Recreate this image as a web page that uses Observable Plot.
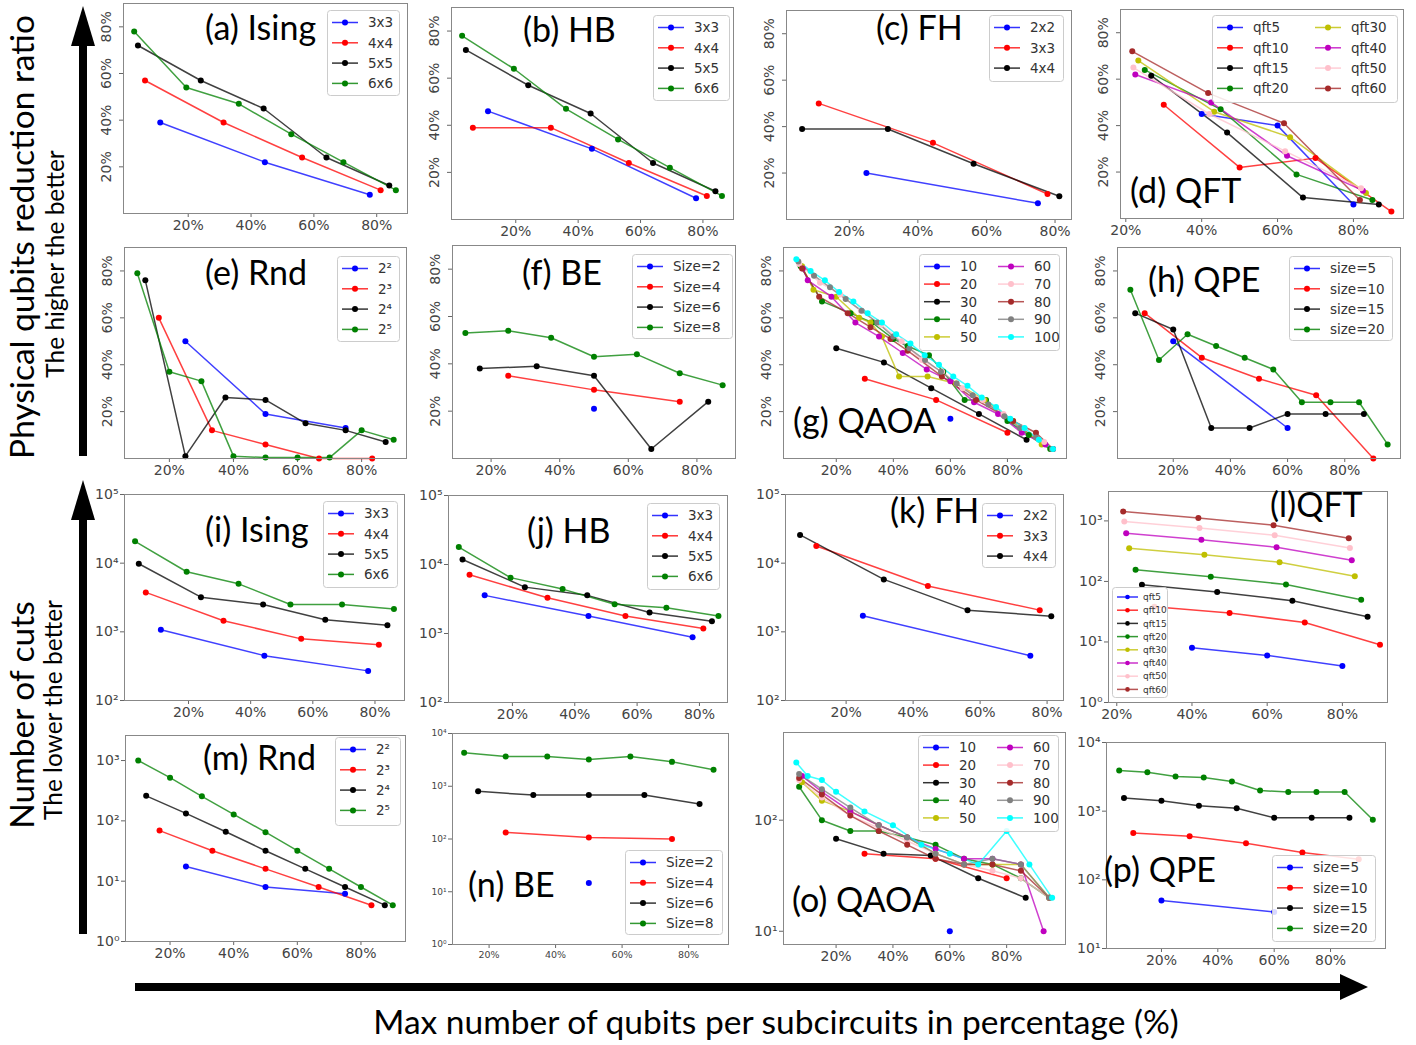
<!DOCTYPE html>
<html><head><meta charset="utf-8">
<script src="https://cdn.jsdelivr.net/npm/d3@7"></script>
<script src="https://cdn.jsdelivr.net/npm/@observablehq/plot@0.6"></script>
<style>
body{margin:0;background:#fff;}
#root{position:relative;width:1416px;height:1045px;overflow:hidden;background:#fff;}
#root svg{position:absolute;}
</style></head><body><div id="root"></div>
<script>
// ---------------- DATA (x = max qubits per subcircuit %, y = value) ----------------
const xTicks = [20, 40, 60, 80];
const c4 = ["blue", "red", "black", "green"];
const c3 = ["blue", "red", "black"];
const c8 = ["blue", "red", "black", "green", "#bfbf00", "#bf00bf", "pink", "brown"];
const c10 = ["blue", "red", "black", "green", "#bfbf00", "#bf00bf", "pink", "brown", "grey", "cyan"];

// Row 1-2 : physical qubits reduction ratio (%)
const ratioIsing = [
  ["3x3", [[11.1,39],[44.4,22],[77.8,8]]],
  ["4x4", [[6.25,57],[31.25,39],[56.25,24],[81.25,10]]],
  ["5x5", [[4,72],[24,57],[44,45],[64,24],[84,12]]],
  ["6x6", [[2.8,78],[19.4,54],[36.1,47],[52.8,34],[69.4,22],[86.1,10]]]
];
const ratioHB = [
  ["3x3", [[11.1,46],[44.4,30],[77.8,9]]],
  ["4x4", [[6.25,39],[31.25,39],[56.25,24],[81.25,10]]],
  ["5x5", [[4,72],[24,57],[44,45],[64,24],[84,12]]],
  ["6x6", [[2.8,78],[19.4,64],[36.1,47],[52.8,34],[69.4,22],[86.1,10]]]
];
const ratioFH = [
  ["2x2", [[25,20],[75,7]]],
  ["3x3", [[11.1,50],[44.4,33],[77.8,11]]],
  ["4x4", [[6.25,39],[31.25,39],[56.25,24],[81.25,10]]]
];
const ratioQFT = [
  ["qft5", [[40,45],[60,40],[80,6]]],
  ["qft10", [[30,49],[50,22],[70,26],[90,3]]],
  ["qft15", [[26.7,61.5],[46.7,37],[66.7,9],[86.7,6]]],
  ["qft20", [[25,64],[45,47],[65,19],[85,8]]],
  ["qft30", [[23.3,68],[43.3,46],[63.3,35],[83.3,11]]],
  ["qft40", [[22.5,62],[42.5,50],[62.5,27],[82.5,12]]],
  ["qft50", [[22,65],[42,45],[62,29],[82,13]]],
  ["qft60", [[21.7,72],[41.7,54],[61.7,41],[81.7,8]]]
];
const ratioRnd = [
  ["2²", [[25,50],[50,19],[75,13]]],
  ["2³", [[16.7,60],[33.3,12],[50,6],[66.7,0],[83.3,0]]],
  ["2⁴", [[12.5,76],[25,1],[37.5,26],[50,25],[62.5,15],[75,12],[87.5,7]]],
  ["2⁵", [[10,79],[20,37],[30,33],[40,1],[50,0.4],[60,0.4],[70,0.4],[80,12],[90,8]]]
];
const ratioBE = [
  ["Size=2", [[50,21]]],
  ["Size=4", [[25,35],[50,29],[75,24]]],
  ["Size=6", [[16.7,38],[33.3,39],[50,35],[66.7,4],[83.3,24]]],
  ["Size=8", [[12.5,53],[25,54],[37.5,51],[50,43],[62.5,44],[75,36],[87.5,31]]]
];
const ratioQAOA = [
  ["10", [[60,17]]],
  ["20", [[30,34],[55,25],[80,11]]],
  ["30", [[20,47],[36.7,41],[53.3,30],[70,19],[86.7,8]]],
  ["40", [[7.5,82],[15,67],[25,62],[32.5,58],[40,51],[45,48],[52.5,44],[57.5,37],[65,25],[72.5,25],[80,16],[87.5,10],[95,4]]],
  ["50", [[8,82],[12,72],[20,69],[28,60],[32,58],[36,52],[42,35],[52,35],[62,32],[72,25],[82,16],[92,6]]],
  ["60", [[8.3,81],[10,76],[18.3,69],[26.7,58],[35,52],[43.3,45],[51.7,38],[60,33],[68.3,24],[76.7,19],[85,11],[93.3,6],[96,4]]],
  ["70", [[7,83],[14.3,75],[21.4,70],[28.6,63],[35.7,57],[42.9,50],[50,42],[57.1,37],[64.3,30],[71.4,25],[78.6,19],[85.7,13],[92.9,7]]],
  ["80", [[8,81],[14,69],[24,62],[32,56],[39,51],[45,46],[57,35],[69,25],[82,16],[90,11],[96,4]]],
  ["90", [[6.7,84],[12.2,78],[17.8,73],[23.3,68],[28.9,63],[34.4,58],[40,52],[45.6,47],[51.1,42],[56.7,37],[62.2,32],[67.8,27],[73.3,23],[78.9,18],[84.4,13],[90,9],[95.6,4]]],
  ["100", [[6,85],[11,80],[16,76],[21,71],[26,67],[31,62],[36,58],[41,53],[46,49],[51,44],[56,40],[61,35],[66,31],[71,26],[76,22],[81,17],[86,13],[91,8],[96,4]]]
];
const ratioQPE = [
  ["size=5", [[20,50],[60,13]]],
  ["size=10", [[10,62],[30,43],[50,34],[70,27],[90,0]]],
  ["size=15", [[6.7,62],[20,55],[33.3,13],[46.7,13],[60,19],[73.3,19],[86.7,19]]],
  ["size=20", [[5,72],[15,42],[25,53],[35,48],[45,43],[55,38],[65,24],[75,24],[85,24],[95,6]]]
];

// Row 3-4 : number of cuts (log)
const cutsIsing = [
  ["3x3", [[11.1,1070],[44.4,450],[77.8,270]]],
  ["4x4", [[6.25,3750],[31.25,1450],[56.25,790],[81.25,650]]],
  ["5x5", [[4,9800],[24,3200],[44,2500],[64,1500],[84,1250]]],
  ["6x6", [[2.8,20800],[19.4,7500],[36.1,5000],[52.8,2500],[69.4,2500],[86.1,2150]]]
];
const cutsHB = [
  ["3x3", [[11.1,3570],[44.4,1790],[77.8,880]]],
  ["4x4", [[6.25,7100],[31.25,3300],[56.25,1790],[81.25,1180]]],
  ["5x5", [[4,11800],[24,4700],[44,3570],[64,2020],[84,1500]]],
  ["6x6", [[2.8,17900],[19.4,6450],[36.1,4400],[52.8,2650],[69.4,2360],[86.1,1790]]]
];
const cutsFH = [
  ["2x2", [[25,1710],[75,450]]],
  ["3x3", [[11.1,17800],[44.4,4640],[77.8,2070]]],
  ["4x4", [[6.25,25800],[31.25,5800],[56.25,2070],[81.25,1690]]]
];
const cutsQFT = [
  ["qft5", [[40,8],[60,6],[80,4]]],
  ["qft10", [[30,38],[50,30],[70,21],[90,9]]],
  ["qft15", [[26.7,88],[46.7,67],[66.7,48],[86.7,26]]],
  ["qft20", [[25,156],[45,119],[65,89],[85,50]]],
  ["qft30", [[23.3,352],[43.3,277],[63.3,207],[83.3,122]]],
  ["qft40", [[22.5,625],[42.5,490],[62.5,366],[82.5,223]]],
  ["qft50", [[22,975],[42,766],[62,578],[82,357]]],
  ["qft60", [[21.7,1430],[41.7,1120],[61.7,848],[81.7,516]]]
];
const cutsRnd = [
  ["2²", [[25,17.5],[50,8],[75,6.2]]],
  ["2³", [[16.7,69],[33.3,32],[50,16],[66.7,8],[83.3,4]]],
  ["2⁴", [[12.5,260],[25,133],[37.5,66],[50,32],[62.5,16],[75,8],[87.5,4]]],
  ["2⁵", [[10,1000],[20,520],[30,255],[40,128],[50,65],[60,32],[70,16],[80,8],[90,4]]]
];
const cutsBE = [
  ["Size=2", [[50,14.7]]],
  ["Size=4", [[25,133],[50,107],[75,100]]],
  ["Size=6", [[16.7,800],[33.3,680],[50,680],[66.7,680],[83.3,460]]],
  ["Size=8", [[12.5,4300],[25,3650],[37.5,3650],[50,3200],[62.5,3650],[75,2900],[87.5,2050]]]
];
const cutsQAOA = [
  ["10", [[60,10]]],
  ["20", [[30,50],[55,45],[80,30]]],
  ["30", [[20,68],[36.7,50],[53.3,48],[70,30],[86.7,20]]],
  ["40", [[7,200],[15,100],[25,80],[35,80],[45,70],[55,60],[65,45],[75,40],[85,30],[95,20]]],
  ["50", [[8,220],[15,150],[25,120],[35,90],[45,70],[55,50],[65,40],[75,40],[85,40],[95,20]]],
  ["60", [[8,250],[15,180],[25,120],[35,90],[45,70],[55,55],[65,45],[75,45],[85,40],[93,10]]],
  ["70", [[7,230],[15,160],[25,110],[35,85],[45,65],[55,50],[65,40],[75,35],[85,30],[95,20]]],
  ["80", [[7,240],[15,170],[25,110],[35,80],[45,60],[55,45],[65,40],[75,40],[85,35],[95,20]]],
  ["90", [[7,260],[15,190],[25,130],[35,90],[45,70],[55,50],[65,40],[75,45],[85,40],[95,20]]],
  ["100", [[6,330],[10,250],[15,230],[20,180],[30,120],[40,90],[50,60],[60,50],[70,40],[80,80],[88,40],[96,20]]]
];
const cutsQPE = [
  ["size=5", [[20,50],[60,34]]],
  ["size=10", [[10,480],[30,430],[50,340],[70,250],[90,200]]],
  ["size=15", [[6.7,1550],[20,1420],[33.3,1200],[46.7,1100],[60,800],[73.3,800],[86.7,800]]],
  ["size=20", [[5,3900],[15,3700],[25,3200],[35,3100],[45,2700],[55,2000],[65,1900],[75,1900],[85,1900],[95,750]]]
];

// ---------------- LAYOUT ----------------
const panels = [
  {data: ratioIsing, colors: c4, l:123, t:3,  w:284, h:210, x:[-0.6,89.8], title:"(a) Ising", tp:[205,40], lg:{x:327,y:10,w:72,h:85,cols:1}},
  {data: ratioHB,    colors: c4, l:451, t:7,  w:282, h:212, x:[-0.6,89.8], title:"(b) HB", tp:[523,42], lg:{x:653,y:15,w:76,h:85,cols:1}},
  {data: ratioFH,    colors: c3, l:786, t:10, w:285, h:209, x:[1.7,84.8], title:"(c) FH", tp:[876,40], lg:{x:989,y:15,w:74,h:66,cols:1}},
  {data: ratioQFT,   colors: c8, l:1120,t:9,  w:283, h:209, x:[18.6,93.2], title:"(d) QFT", tp:[1130,203], lg:{x:1212,y:15,w:185,h:87,cols:2,colW:98}},
  {data: ratioRnd,   colors: c4, l:124, t:247,w:282, h:211, x:[6,94], title:"(e) Rnd", tp:[205,285], lg:{x:337,y:256,w:62,h:85,cols:1}},
  {data: ratioBE,    colors: c4, l:452, t:245,w:283, h:213, x:[8.75,91.25], title:"(f) BE", tp:[522,285], lg:{x:632,y:254,w:100,h:84,cols:1}},
  {data: ratioQAOA,  colors: c10,l:783, t:247,w:283, h:211, x:[1.5,100.7], title:"(g) QAOA", tp:[793,433], lg:{x:919,y:254,w:140,h:96,cols:2,colW:74,rowH:17.6}},
  {data: ratioQPE,   colors: c4, l:1117,t:247,w:283, h:211, x:[0.5,99.5], title:"(h) QPE", tp:[1148,292], lg:{x:1289,y:256,w:103,h:84,cols:1}},
  {data: cutsIsing,  colors: c4, l:124, t:494,w:280, h:206, x:[-0.6,89.5], log:[100,1e5], title:"(i) Ising", tp:[205,542], lg:{x:323,y:501,w:74,h:86,cols:1}},
  {data: cutsHB,     colors: c4, l:448, t:495,w:279, h:207, x:[-0.5,89], log:[100,1e5], title:"(j) HB", tp:[527,543], lg:{x:647,y:503,w:72,h:86,cols:1}},
  {data: cutsFH,     colors: c3, l:785, t:494,w:278, h:206, x:[1.9,84.9], log:[100,1e5], title:"(k) FH", tp:[890,523], lg:{x:982,y:503,w:73,h:64,cols:1}},
  {data: cutsQFT,    colors: c8, l:1108,t:491,w:279, h:211, x:[17.8,92], log:[1,3060], title:"(l)QFT", tp:[1270,517], lg:{x:1112,y:587,w:55,h:110,cols:1,rowH:13.2,font:9,first:10,line:21}},
  {data: cutsRnd,    colors: c4, l:125, t:735,w:280, h:206, x:[6,94], log:[1,2600], title:"(m) Rnd", tp:[203,770], lg:{x:335,y:737,w:65,h:88,cols:1}},
  {data: cutsBE,     colors: c4, l:452, t:733,w:276, h:211, x:[9,92], log:[1,1e4], yFont:9, xFont:9.5, title:"(n) BE", tp:[468,897], lg:{x:625,y:850,w:97,h:84,cols:1}},
  {data: cutsQAOA,   colors: c10,l:783, t:732,w:282, h:212, x:[1.5,100.7], log:[7.6,616], title:"(o) QAOA", tp:[792,912], lg:{x:918,y:735,w:140,h:96,cols:2,colW:74,rowH:17.6}},
  {data: cutsQPE,    colors: c4, l:1106,t:742,w:279, h:206, x:[0.5,99.5], log:[10,1e4], title:"(p) QPE", tp:[1104,882], lg:{x:1272,y:855,w:103,h:86,cols:1}}
];

const SUP = {"0":"⁰","1":"¹","2":"²","3":"³","4":"⁴","5":"⁵","6":"⁶","-":"⁻"};
const sup = n => String(n).split("").map(c => SUP[c]).join("");
const root = document.getElementById("root");
const ML = 44, MR = 8, MT = 8, MB = 32;
const FONT = "'DejaVu Sans', sans-serif";

for (const p of panels) {
  const rows = [];
  p.data.forEach(([name, pts]) => pts.forEach(([x, y]) => rows.push({series: name, x, y})));
  const xf = p.xFont || 14, yf = p.yFont || 14;
  const yAxis = p.log
    ? Plot.axisY({ticks: d3.range(Math.ceil(Math.log10(p.log[0])), Math.floor(Math.log10(p.log[1])) + 1).map(e => 10 ** e),
        tickFormat: d => "10" + sup(Math.round(Math.log10(d))), tickSize: 4, tickPadding: 2, fontSize: yf, label: null, stroke: "#666"})
    : Plot.axisY({ticks: xTicks, tickFormat: d => d + "%", tickRotate: -90, tickSize: 4, tickPadding: 9, fontSize: yf, label: null, stroke: "#666"});
  const chart = Plot.plot({
    width: p.w + ML + MR, height: p.h + MT + MB,
    marginLeft: ML, marginRight: MR, marginTop: MT, marginBottom: MB,
    style: {fontFamily: FONT, color: "#444", background: "transparent", overflow: "visible", fontSize: "14px"},
    x: {domain: p.x, label: null},
    y: p.log ? {type: "log", domain: p.log, label: null} : {domain: [0, 90], label: null},
    color: {domain: p.data.map(d => d[0]), range: p.colors},
    marks: [
      Plot.axisX({ticks: xTicks, tickFormat: d => d + "%", tickSize: 4, tickPadding: 3, fontSize: xf, label: null, stroke: "#666"}),
      yAxis,
      Plot.line(rows, {x: "x", y: "y", z: "series", stroke: "series", strokeWidth: 1.5, strokeOpacity: 0.75}),
      Plot.dot(rows, {x: "x", y: "y", fill: "series", r: 3}),
      Plot.frame({stroke: "#888", strokeWidth: 1})
    ]
  });
  chart.style.left = (p.l - ML) + "px";
  chart.style.top = (p.t - MT) + "px";
  root.appendChild(chart);
}

// ---------------- OVERLAY: titles, legends, arrows, labels ----------------
const NS = "http://www.w3.org/2000/svg";
const ov = document.createElementNS(NS, "svg");
ov.setAttribute("width", 1416); ov.setAttribute("height", 1045);
ov.style.left = "0px"; ov.style.top = "0px";
root.appendChild(ov);
function el(tag, attrs, text) {
  const e = document.createElementNS(NS, tag);
  for (const k in attrs) e.setAttribute(k, attrs[k]);
  if (text != null) e.textContent = text;
  ov.appendChild(e);
  return e;
}
const TFONT = "Lato, 'Open Sans', sans-serif";

for (const p of panels) {
  const g = p.lg, cols = g.cols, n = p.data.length, per = Math.ceil(n / cols);
  const rowH = g.rowH || 20.3, first = g.first || 12.5, fs = g.font || 13.5, ln = g.line || 26;
  el("rect", {x: g.x + 0.5, y: g.y + 0.5, width: g.w, height: g.h, rx: 3, fill: "white", "fill-opacity": 0.85, stroke: "#cccccc"});
  p.data.forEach(([name], i) => {
    const c = Math.floor(i / per), r = i % per;
    const x0 = g.x + 5 + c * (g.colW || 0), y0 = g.y + first + r * rowH;
    el("line", {x1: x0, x2: x0 + ln, y1: y0, y2: y0, stroke: p.colors[i], "stroke-width": 1.5, "stroke-opacity": 0.8});
    el("circle", {cx: x0 + ln / 2, cy: y0, r: fs < 11 ? 2.3 : 3, fill: p.colors[i]});
    el("text", {x: x0 + ln + (fs < 11 ? 5 : 10), y: y0 + fs * 0.36, "font-family": FONT, "font-size": fs, fill: "#333"}, name);
  });
  el("text", {x: p.tp[0], y: p.tp[1], "font-family": TFONT, "font-size": 34, fill: "#000"}, p.title);
}

// arrows
el("path", {d: "M83,456 L83,40", stroke: "#000", "stroke-width": 8, fill: "none"});
el("path", {d: "M71,46 L95,46 L83,6 Z", fill: "#000"});
el("path", {d: "M83,934 L83,515", stroke: "#000", "stroke-width": 8, fill: "none"});
el("path", {d: "M71,520 L95,520 L83,480 Z", fill: "#000"});
el("path", {d: "M135,987 L1345,987", stroke: "#000", "stroke-width": 8, fill: "none"});
el("path", {d: "M1340,974 L1340,1000 L1368,987 Z", fill: "#000"});

// axis labels
el("text", {transform: "translate(34,237) rotate(-90)", "text-anchor": "middle", "font-family": TFONT, "font-size": 33.5, fill: "#000"}, "Physical qubits reduction ratio");
el("text", {transform: "translate(64,264) rotate(-90)", "text-anchor": "middle", "font-family": TFONT, "font-size": 24.5, fill: "#000"}, "The higher the better");
el("text", {transform: "translate(34,715) rotate(-90)", "text-anchor": "middle", "font-family": TFONT, "font-size": 33.5, fill: "#000"}, "Number of cuts");
el("text", {transform: "translate(62,710) rotate(-90)", "text-anchor": "middle", "font-family": TFONT, "font-size": 24.5, fill: "#000"}, "The lower the better");
el("text", {x: 776, y: 1034, "text-anchor": "middle", "font-family": TFONT, "font-size": 33.5, fill: "#000"}, "Max number of qubits per subcircuits in percentage (%)");
</script></body></html>
